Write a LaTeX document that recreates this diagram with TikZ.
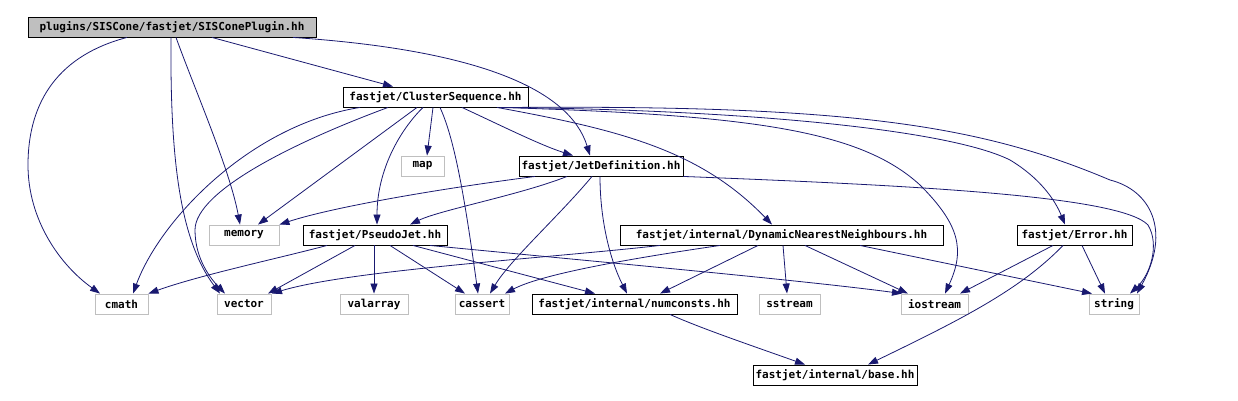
\documentclass[tikz,border=0pt]{standalone}
\usepackage{fontspec}
\setmonofont{DejaVu Sans Mono}
\usetikzlibrary{arrows.meta}
\definecolor{edgec}{HTML}{191970}
\definecolor{greyb}{HTML}{BFBFBF}
\begin{document}
\begin{tikzpicture}[x=1pt,y=-1pt,
  box/.style={draw=black, line width=0.9pt, minimum height=20pt, inner sep=0pt, fill=white,
    font=\ttfamily\bfseries\fontsize{11}{12}\selectfont},
  ext/.style={box, draw=greyb},
  root/.style={box, fill=greyb},
  edge/.style={draw=edgec, line width=0.8pt, -{Triangle[length=10pt,width=7pt]}}
]
\useasboundingbox (0,0) rectangle (1238,401);
% nodes
\node[root, minimum width=288pt] (sis) at (172,27) {plugins/SISCone/fastjet/SISConePlugin.hh};
\node[box, minimum width=185pt] (cs) at (435.5,97) {fastjet/ClusterSequence.hh};
\node[box, minimum width=164pt] (jd) at (601,166) {fastjet/JetDefinition.hh};
\node[ext, minimum width=43pt] (map) at (422.5,166) {map};
\node[ext, minimum width=70pt] (mem) at (244,235) {memory};
\node[box, minimum width=144pt] (pj) at (375,235) {fastjet/PseudoJet.hh};
\node[box, minimum width=323pt] (dnn) at (781.5,235) {fastjet/internal/DynamicNearestNeighbours.hh};
\node[box, minimum width=115pt] (err) at (1074.5,235) {fastjet/Error.hh};
\node[ext, minimum width=53pt] (cmath) at (121.5,304) {cmath};
\node[ext, minimum width=54pt] (vector) at (244,304) {vector};
\node[ext, minimum width=68pt] (valarray) at (374,304) {valarray};
\node[ext, minimum width=54pt] (cassert) at (482,304) {cassert};
\node[box, minimum width=205pt] (numc) at (634.5,304) {fastjet/internal/numconsts.hh};
\node[ext, minimum width=61pt] (sstream) at (789.5,304) {sstream};
\node[ext, minimum width=67pt] (iostream) at (934.5,304) {iostream};
\node[ext, minimum width=50pt] (string) at (1114,304) {string};
\node[box, minimum width=164pt] (base) at (835,375) {fastjet/internal/base.hh};
% edges from SISConePlugin
\draw[edge] ([xshift=40pt]sis.south) -- ([xshift=-42.5pt]cs.north);
\draw[edge] ([xshift=121pt]sis.south) .. controls (480,50) and (570,90) .. ([xshift=-11pt]jd.north);
\draw[edge] ([xshift=-45pt]sis.south) .. controls (60,55) and (28,100) .. (28,165) .. controls (28,220) and (60,265) .. ([xshift=-21.5pt]cmath.north);
\draw[edge] ([xshift=-1pt]sis.south) .. controls (170,160) and (180,240) .. ([xshift=-24pt]vector.north);
\draw[edge] ([xshift=4pt]sis.south) .. controls (195,90) and (230,170) .. ([xshift=-4pt]mem.north);
% edges from ClusterSequence
\draw[edge] ([xshift=-75.5pt]cs.south) .. controls (250,125) and (160,220) .. ([xshift=11.5pt]cmath.north);
\draw[edge] ([xshift=-47.5pt]cs.south) .. controls (300,140) and (195,190) .. (195,230) .. controls (195,260) and (212,280) .. ([xshift=-19pt]vector.north);
\draw[edge] ([xshift=-18.5pt]cs.south) -- ([xshift=14pt]mem.north);
\draw[edge] ([xshift=-12.5pt]cs.south) .. controls (400,130) and (377,170) .. ([xshift=2pt]pj.north);
\draw[edge] ([xshift=-2.5pt]cs.south) -- ([xshift=4.5pt]map.north);
\draw[edge] ([xshift=4.5pt]cs.south) .. controls (455,140) and (465,200) .. ([xshift=-4pt]cassert.north);
\draw[edge] ([xshift=26.5pt]cs.south) .. controls (500,125) and (540,145) .. ([xshift=-28pt]jd.north);
\draw[edge] ([xshift=61.5pt]cs.south) .. controls (620,130) and (700,150) .. ([xshift=-9.5pt]dnn.north);
\draw[edge] ([xshift=69.5pt]cs.south) .. controls (750,110) and (950,130) .. (1010,160) .. controls (1040,178) and (1055,200) .. ([xshift=-9.5pt]err.north);
\draw[edge] ([xshift=64.5pt]cs.south) .. controls (750,115) and (860,130) .. (920,185) .. controls (960,225) and (965,250) .. ([xshift=10.5pt]iostream.north);
\draw[edge] ([xshift=79.5pt]cs.south) .. controls (850,105) and (980,125) .. (1110,180) .. controls (1150,190) and (1172,230) .. ([xshift=23pt]string.north);
% edges from JetDefinition
\draw[edge] ([xshift=-66pt]jd.south) .. controls (430,190) and (330,208) .. (mem.north east);
\draw[edge] ([xshift=-34pt]jd.south) .. controls (520,195) and (440,210) .. ([xshift=35pt]pj.north);
\draw[edge] ([xshift=-9pt]jd.south) .. controls (560,215) and (510,260) .. ([xshift=8pt]cassert.north);
\draw[edge] ([xshift=-1pt]jd.south) .. controls (600,220) and (610,260) .. ([xshift=-7.5pt]numc.north);
\draw[edge] (jd.south east) .. controls (900,185) and (1120,195) .. (1148,225) .. controls (1160,245) and (1150,275) .. ([xshift=16pt]string.north);
% edges from PseudoJet
\draw[edge] ([xshift=-48pt]pj.south) .. controls (280,258) and (200,275) .. (cmath.north east);
\draw[edge] ([xshift=-20pt]pj.south) -- ([xshift=24pt]vector.north);
\draw[edge] ([xshift=-1pt]pj.south) -- (valarray.north);
\draw[edge] ([xshift=15pt]pj.south) -- ([xshift=-17pt]cassert.north);
\draw[edge] ([xshift=38pt]pj.south) -- ([xshift=-39.5pt]numc.north);
\draw[edge] ([xshift=55pt]pj.south) .. controls (600,262) and (800,280) .. ([xshift=-32.5pt]iostream.north);
% edges from DynamicNearestNeighbours
\draw[edge] ([xshift=-121.5pt]dnn.south) .. controls (550,258) and (350,270) .. ([xshift=28pt]vector.north);
\draw[edge] ([xshift=-61.5pt]dnn.south) .. controls (620,260) and (540,275) .. ([xshift=23pt]cassert.north);
\draw[edge] ([xshift=-23.5pt]dnn.south) -- ([xshift=25.5pt]numc.north);
\draw[edge] ([xshift=1.5pt]dnn.south) -- ([xshift=-2.5pt]sstream.north);
\draw[edge] ([xshift=23.5pt]dnn.south) -- ([xshift=-26.5pt]iostream.north);
\draw[edge] ([xshift=78.5pt]dnn.south) -- ([xshift=-22pt]string.north);
% edges from Error
\draw[edge] ([xshift=-21.5pt]err.south) -- ([xshift=25.5pt]iostream.north);
\draw[edge] ([xshift=-11.5pt]err.south) .. controls (1020,290) and (960,320) .. ([xshift=33pt]base.north);
\draw[edge] ([xshift=7.5pt]err.south) -- ([xshift=-9pt]string.north);
% numconsts -> base
\draw[edge] ([xshift=35.5pt]numc.south) .. controls (700,328) and (750,345) .. ([xshift=-30pt]base.north);
\end{tikzpicture}
\end{document}
